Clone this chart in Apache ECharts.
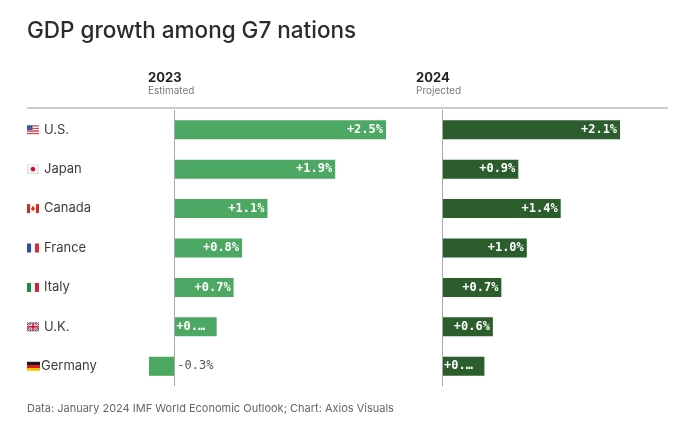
<!DOCTYPE html>
<html>
<head>
<meta charset="utf-8">
<script src="https://cdn.jsdelivr.net/npm/echarts@6/dist/echarts.min.js"></script>
<style>
  html, body { margin: 0; padding: 0; background: #fff; }
  #main { width: 680px; height: 442px; }
</style>
</head>
<body>
<div id="main"></div>
<script>
(function () {
    "use strict";

    var countries = ['U.S.', 'Japan', 'Canada', 'France', 'Italy', 'U.K.', 'Germany'];
    var flagKeys = ['us', 'jp', 'ca', 'fr', 'it', 'uk', 'de'];
    var values2023 = [2.5, 1.9, 1.1, 0.8, 0.7, 0.5, -0.3];
    var values2024 = [2.1, 0.9, 1.4, 1.0, 0.7, 0.6, 0.5];

    // little flags drawn on canvas, used as label backgrounds
    function flag(key) {
        var c = document.createElement('canvas');
        var w = 24, h = 18;
        c.width = w; c.height = h;
        var g = c.getContext('2d');
        function vstripes(cols) {
            var sw = w / cols.length;
            cols.forEach(function (col, i) {
                g.fillStyle = col;
                g.fillRect(i * sw, 0, sw + 0.5, h);
            });
        }
        if (key === 'us') {
            for (var i = 0; i < 7; i++) {
                g.fillStyle = i % 2 === 0 ? '#d8495a' : '#f4f4f4';
                g.fillRect(0, i * h / 7, w, h / 7 + 0.5);
            }
            g.fillStyle = '#3f5b9e';
            g.fillRect(0, 0, 11, 10);
        } else if (key === 'jp') {
            g.fillStyle = '#f2f2f2';
            g.fillRect(0, 0, w, h);
            g.strokeStyle = '#cfcfcf';
            g.strokeRect(0.5, 0.5, w - 1, h - 1);
            g.fillStyle = '#c8102e';
            g.beginPath();
            g.arc(w / 2, h / 2, 4.5, 0, Math.PI * 2);
            g.fill();
        } else if (key === 'ca') {
            vstripes(['#d52b1e', '#f7f7f7', '#f7f7f7', '#d52b1e']);
            g.fillStyle = '#d52b1e';
            g.beginPath();
            g.moveTo(12, 3); g.lineTo(16, 10); g.lineTo(12, 14); g.lineTo(8, 10);
            g.closePath();
            g.fill();
        } else if (key === 'fr') {
            vstripes(['#2a4fa0', '#f4f4f4', '#d8283a']);
        } else if (key === 'it') {
            vstripes(['#1c8a46', '#f4f4f4', '#c9283a']);
        } else if (key === 'uk') {
            g.fillStyle = '#2b3f86';
            g.fillRect(0, 0, w, h);
            g.strokeStyle = '#f4f4f4';
            g.lineWidth = 4;
            g.beginPath();
            g.moveTo(0, 0); g.lineTo(w, h); g.moveTo(w, 0); g.lineTo(0, h);
            g.stroke();
            g.strokeStyle = '#c8102e';
            g.lineWidth = 1.5;
            g.stroke();
            g.fillStyle = '#f4f4f4';
            g.fillRect(9, 0, 6, h);
            g.fillRect(0, 6, w, 6);
            g.fillStyle = '#c8102e';
            g.fillRect(10.5, 0, 3, h);
            g.fillRect(0, 7.5, w, 3);
        } else if (key === 'de') {
            var cols = ['#1a1a1a', '#dd1f1f', '#f5c400'];
            cols.forEach(function (col, i) {
                g.fillStyle = col;
                g.fillRect(0, i * h / 3, w, h / 3 + 0.5);
            });
        }
        return c;
    }

    var rich = {
        n: {
            fontFamily: 'Inter',
            fontSize: 13,
            color: '#3d3d3d',
            padding: [0, 0, 0, 5]
        },
        nd: {
            fontFamily: 'Inter',
            fontSize: 13,
            color: '#3d3d3d',
            padding: [0, 0, 0, 1]
        }
    };
    flagKeys.forEach(function (k) {
        rich[k] = {
            width: k === 'de' ? 13 : 12,
            height: 9,
            backgroundColor: { image: flag(k) }
        };
    });

    function pct(v) {
        return (v > 0 ? '+' : '-') + Math.abs(v).toFixed(1) + '%';
    }

    var valueLabel = {
        show: true,
        position: 'insideRight',
        distance: 3,
        fontFamily: 'DejaVu Sans Mono',
        fontSize: 12,
        fontWeight: 'bold',
        color: '#ffffff',
        formatter: function (p) { return pct(p.value); }
    };

    var zeroLine = {
        silent: true,
        symbol: 'none',
        label: { show: false },
        lineStyle: { color: '#a9a9a9', width: 1, type: 'solid' },
        data: [{ xAxis: 0 }]
    };

    function barData(values) {
        return values.map(function (v) {
            if (v < 0) {
                return {
                    value: v,
                    label: {
                        position: 'right',
                        distance: 3,
                        color: '#555',
                        fontWeight: 'normal'
                    }
                };
            }
            if (v <= 0.5) {
                return {
                    value: v,
                    label: {
                        position: 'insideLeft',
                        distance: 2,
                        width: 30,
                        overflow: 'truncate',
                        ellipsis: '…'
                    }
                };
            }
            return v;
        });
    }

    var myChart = echarts.init(document.getElementById('main'));
    var option = {
        animation: false,
        graphic: [
            {
                type: 'text', left: 27, top: 20,
                style: { text: 'GDP growth among G7 nations', fontFamily: 'Inter', fontSize: 22.5, fontWeight: 500, fill: '#2b2b2b' }
            },
            {
                type: 'text', left: 148, top: 72,
                style: { text: '2023', fontFamily: 'Inter', fontSize: 13, fontWeight: 'bold', fill: '#222' }
            },
            {
                type: 'text', left: 148, top: 86,
                style: { text: 'Estimated', fontFamily: 'Inter', fontSize: 10, fill: '#7a7a7a' }
            },
            {
                type: 'text', left: 416, top: 72,
                style: { text: '2024', fontFamily: 'Inter', fontSize: 13, fontWeight: 'bold', fill: '#222' }
            },
            {
                type: 'text', left: 416, top: 86,
                style: { text: 'Projected', fontFamily: 'Inter', fontSize: 10, fill: '#7a7a7a' }
            },
            {
                type: 'line',
                shape: { x1: 27, y1: 108, x2: 668, y2: 108 },
                style: { stroke: '#bdbdbd', lineWidth: 1.5 }
            },
            {
                type: 'text', left: 27, top: 403,
                style: { text: 'Data: January 2024 IMF World Economic Outlook; Chart: Axios Visuals', fontFamily: 'Inter', fontSize: 11, fill: '#666' }
            }
        ],
        grid: [
            { left: 132, top: 110, width: 254, height: 276 },
            { left: 442, top: 110, width: 212, height: 276 }
        ],
        xAxis: [
            { gridIndex: 0, type: 'value', min: -0.5, max: 2.5, show: false },
            { gridIndex: 1, type: 'value', min: 0, max: 2.5, show: false }
        ],
        yAxis: [
            {
                gridIndex: 0,
                type: 'category',
                data: countries,
                inverse: true,
                axisLine: { show: false, onZero: false },
                axisTick: { show: false },
                axisLabel: {
                    margin: 105,
                    align: 'left',
                    formatter: function (name, idx) {
                        var k = flagKeys[idx];
                        return '{' + k + '|}{' + (k === 'de' ? 'nd' : 'n') + '|' + name + '}';
                    },
                    rich: rich
                }
            },
            {
                gridIndex: 1,
                type: 'category',
                data: countries,
                inverse: true,
                axisLine: { show: false, onZero: false },
                axisTick: { show: false },
                axisLabel: { show: false }
            }
        ],
        series: [
            {
                name: '2023',
                type: 'bar',
                xAxisIndex: 0,
                yAxisIndex: 0,
                barWidth: 19,
                itemStyle: { color: '#4ca862' },
                label: valueLabel,
                markLine: zeroLine,
                data: barData(values2023)
            },
            {
                name: '2024',
                type: 'bar',
                xAxisIndex: 1,
                yAxisIndex: 1,
                barWidth: 19,
                itemStyle: { color: '#2b5e2c' },
                label: valueLabel,
                markLine: zeroLine,
                data: barData(values2024)
            }
        ]
    };
    myChart.setOption(option);
})();
</script>
</body>
</html>
